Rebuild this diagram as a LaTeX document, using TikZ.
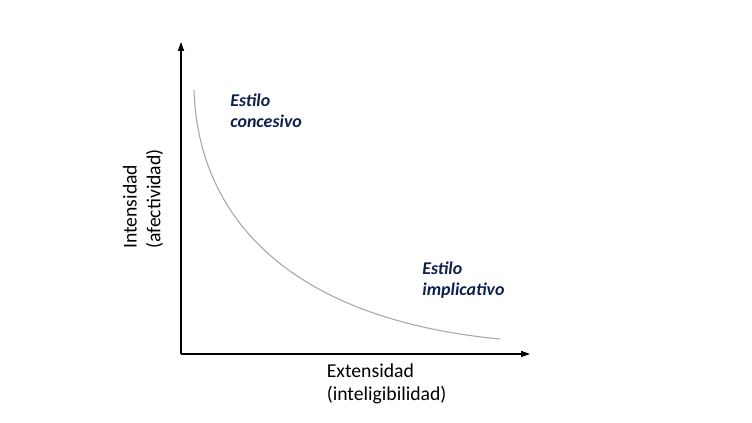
\documentclass[tikz,border=0pt]{standalone}
\usepackage{fontspec}
\setmainfont{Carlito}
\usetikzlibrary{arrows.meta, positioning}
\definecolor{styleNavy}{RGB}{14,32,78}

\begin{document}
\begin{tikzpicture}[
    axisLine/.style={-{Triangle[length=5pt, width=3.4pt]}, black, line width=0.6pt},
    curveLine/.style={draw=gray!70, line width=0.6pt},
    styleLabel/.style={font=\fontsize{10.2}{11.6}\selectfont\bfseries\itshape, text=styleNavy, align=left, inner sep=0pt},
    axisLabel/.style={font=\fontsize{11.2}{13.6}\selectfont, align=left, inner sep=0pt}
]
    % Canvas
    \useasboundingbox (0,0) rectangle (15.04,8.46);

    % Axes
    \coordinate (origin) at (3.62,1.38);
    \coordinate (ytop)   at (3.62,7.62);
    \coordinate (xend)   at (10.6,1.38);
    \draw[axisLine] (origin) -- (ytop);
    \draw[axisLine] (origin) -- (xend);

    % Indifference curve
    \coordinate (cstart) at (3.88,6.66);
    \coordinate (cend)   at (10.0,1.68);
    \draw[curveLine] (cstart) .. controls (3.96,4.1) and (5.8,2.08) .. (cend);

    % Labels
    \node[styleLabel, anchor=north west] (concesivo) at (4.6,6.58) {Estilo\\concesivo};
    \node[styleLabel, anchor=north west] (implicativo) at (8.44,3.22) {Estilo\\implicativo};
    \node[axisLabel, anchor=north west] (xlabel) at (6.53,1.2) {Extensidad\\(inteligibilidad)};
    \node[axisLabel, rotate=90, anchor=west] (ylabel) at (2.86,3.48) {Intensidad\\(afectividad)};
\end{tikzpicture}
\end{document}
